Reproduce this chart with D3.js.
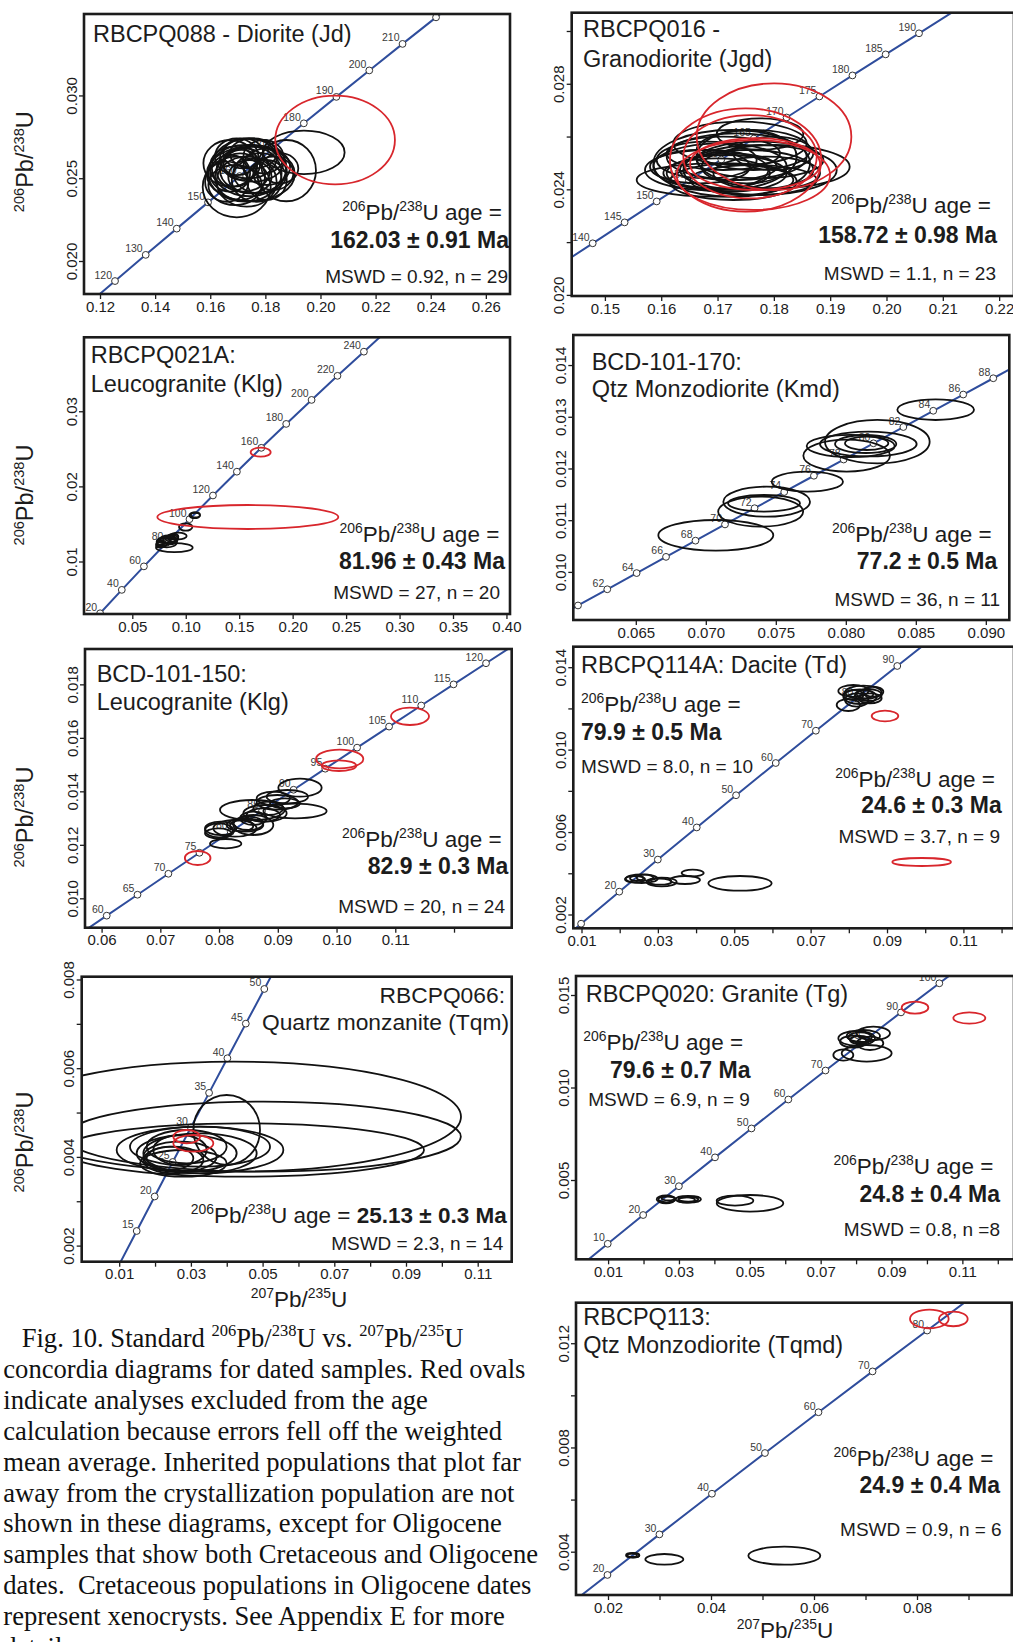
<!DOCTYPE html>
<html>
<head>
<meta charset="utf-8">
<script src="https://cdn.jsdelivr.net/npm/d3@7"></script>
<style>
  body { margin: 0; background: #fff; }
  svg { display: block; }
  text { white-space: pre; }
</style>
</head>
<body>
<svg id="fig" width="1013" height="1642"></svg>
<script>
// ---------------------------------------------------------------
// Concordia reference curve: age (Ma) with 207Pb/235U and 206Pb/238U
// ---------------------------------------------------------------
const concordiaAge = [10, 15, 20, 25, 30, 35, 40, 45, 50, 60, 62, 64, 65, 66, 68, 70, 72, 74, 75, 76, 78, 80, 82, 84, 85, 86, 88, 90, 95, 100, 105, 110, 115, 120, 130, 140, 145, 150, 155, 160, 165, 170, 175, 180, 185, 190, 200, 210, 220, 240];
const concordiaPb207U235 = [0.0098972, 0.0148824, 0.0198923, 0.0249269, 0.0299863, 0.0350707, 0.0401802, 0.0453150, 0.0504751, 0.0608718, 0.0629634, 0.0650592, 0.0661087, 0.0671591, 0.0692632, 0.0713714, 0.0734837, 0.0756003, 0.0766601, 0.0777210, 0.0798458, 0.0819749, 0.0841082, 0.0862456, 0.0873159, 0.0883873, 0.0905332, 0.0926834, 0.0980773, 0.1034979, 0.1089452, 0.1144193, 0.1199206, 0.1254489, 0.1365877, 0.1478367, 0.1535028, 0.1591970, 0.1649192, 0.1706697, 0.1764486, 0.1822560, 0.1880921, 0.1939570, 0.1998508, 0.2057737, 0.2177075, 0.2297793, 0.2419305, 0.2666653];
const concordiaPb206U238 = [0.0015525, 0.0023296, 0.0031073, 0.0038857, 0.0046646, 0.0054441, 0.0062243, 0.0070050, 0.0077864, 0.0093510, 0.0096642, 0.0099774, 0.0101341, 0.0102908, 0.0106043, 0.0109179, 0.0112316, 0.0115454, 0.0117023, 0.0118593, 0.0121732, 0.0124873, 0.0128015, 0.0131158, 0.0132729, 0.0134301, 0.0137446, 0.0140592, 0.0148460, 0.0156334, 0.0164215, 0.0172102, 0.0179995, 0.0187893, 0.0203710, 0.0219550, 0.0227480, 0.0235416, 0.0243358, 0.0251306, 0.0259260, 0.0267220, 0.0275187, 0.0283160, 0.0291139, 0.0299124, 0.0315113, 0.0331126, 0.0347165, 0.0379316];

// Error ellipses: [207Pb/235U, 206Pb/238U, half-width 207/235, half-height 206/238]

// RBCPQ088 - Diorite (Jd)
const p1Ages = [120, 130, 140, 150, 160, 170, 180, 190, 200, 210, 220];
const p1Accepted = [
  [0.1940, 0.02656, 0.01476, 0.00131], [0.1876, 0.02546, 0.01076, 0.00185], [0.1696, 0.02447, 0.01234, 0.00183],
  [0.1747, 0.02526, 0.01597, 0.00165], [0.1741, 0.02566, 0.01355, 0.00175], [0.1684, 0.02570, 0.00847, 0.00121],
  [0.1720, 0.02550, 0.00968, 0.00131], [0.1756, 0.02590, 0.01089, 0.00111], [0.1708, 0.02509, 0.00907, 0.00141],
  [0.1672, 0.02530, 0.00726, 0.00111], [0.1781, 0.02530, 0.00968, 0.00121], [0.1738, 0.02620, 0.01028, 0.00121],
  [0.1696, 0.02630, 0.00786, 0.00111], [0.1769, 0.02489, 0.00907, 0.00131], [0.1732, 0.02479, 0.01089, 0.00151],
  [0.1805, 0.02570, 0.00847, 0.00111], [0.1660, 0.02479, 0.00786, 0.00121], [0.1756, 0.02550, 0.01209, 0.00141],
  [0.1714, 0.02580, 0.00665, 0.00091], [0.1793, 0.02630, 0.00726, 0.00101], [0.1690, 0.02459, 0.00968, 0.00121],
  [0.1829, 0.02530, 0.00726, 0.00101], [0.1726, 0.02530, 0.01330, 0.00171], [0.1756, 0.02650, 0.00847, 0.00091],
  [0.1672, 0.02590, 0.00968, 0.00141], [0.1744, 0.02509, 0.00786, 0.00101], [0.1805, 0.02489, 0.00726, 0.00121],
  [0.1720, 0.02650, 0.00726, 0.00091], [0.1853, 0.02560, 0.00665, 0.00091]
];
const p1Rejected = [[0.2053, 0.02731, 0.02171, 0.00268]];
const p1XTicks = [0.12, 0.14, 0.16, 0.18, 0.20, 0.22, 0.24, 0.26];
const p1XLabels = ["0.12", "0.14", "0.16", "0.18", "0.20", "0.22", "0.24", "0.26"];
const p1YTicks = [0.020, 0.025, 0.030];
const p1YLabels = ["0.020", "0.025", "0.030"];

// RBCPQ016 - Granodiorite (Jgd)
const p2Ages = [140, 145, 150, 155, 160, 165, 170, 175, 180, 185, 190];
const p2Accepted = [
  [0.16955, 0.024353, 0.01391, 0.000632], [0.18032, 0.024859, 0.01314, 0.000821], [0.17755, 0.026097, 0.00769, 0.000594],
  [0.17251, 0.024985, 0.01391, 0.001263], [0.17044, 0.024859, 0.01184, 0.000884], [0.17162, 0.024606, 0.01065, 0.000695],
  [0.16807, 0.024732, 0.01095, 0.000758], [0.17340, 0.025238, 0.01243, 0.000884], [0.17636, 0.025491, 0.01006, 0.000758],
  [0.17518, 0.024732, 0.01184, 0.000758], [0.17281, 0.024290, 0.01125, 0.000695], [0.16807, 0.025111, 0.00888, 0.000695],
  [0.17755, 0.025111, 0.01125, 0.000695], [0.17399, 0.025743, 0.01184, 0.000821], [0.17103, 0.025364, 0.01006, 0.000632],
  [0.17873, 0.024606, 0.00947, 0.000632], [0.16985, 0.024606, 0.00947, 0.000568], [0.17636, 0.024353, 0.01125, 0.000568],
  [0.16689, 0.024859, 0.00888, 0.000632], [0.17518, 0.025238, 0.00888, 0.001010], [0.17991, 0.025364, 0.00710, 0.000632],
  [0.17222, 0.024859, 0.00829, 0.000505], [0.17755, 0.024732, 0.01361, 0.000947]
];
const p2Rejected = [
  [0.18003, 0.025996, 0.01373, 0.002021], [0.17499, 0.025111, 0.01344, 0.001958], [0.17636, 0.024544, 0.01361, 0.001326],
  [0.17666, 0.024958, 0.01154, 0.000985], [0.17577, 0.025236, 0.01184, 0.001579]
];
const p2XTicks = [0.15, 0.16, 0.17, 0.18, 0.19, 0.20, 0.21, 0.22];
const p2XLabels = ["0.15", "0.16", "0.17", "0.18", "0.19", "0.20", "0.21", "0.22"];
const p2YTicks = [0.020, 0.022, 0.024, 0.026, 0.028, 0.030];
const p2YLabels = ["0.020", "0.024", "0.028"];

// RBCPQ021A: Leucogranite (Klg)
const p3Ages = [20, 40, 60, 80, 100, 120, 140, 160, 180, 200, 220, 240];
const p3Accepted = [
  [0.10834, 0.016146, 0.00499, 0.000377], [0.10900, 0.016200, 0.00420, 0.000320], [0.09992, 0.014593, 0.00624, 0.000488],
  [0.08932, 0.011841, 0.01715, 0.000599], [0.07903, 0.012640, 0.00624, 0.000532], [0.08371, 0.012951, 0.00780, 0.000532],
  [0.08683, 0.013084, 0.00624, 0.000444], [0.08215, 0.012507, 0.00935, 0.000621], [0.07747, 0.012330, 0.00468, 0.000444],
  [0.08839, 0.013306, 0.00468, 0.000355], [0.09307, 0.013395, 0.00780, 0.000444], [0.08059, 0.012862, 0.00561, 0.000399],
  [0.08527, 0.012773, 0.00686, 0.000488], [0.07591, 0.012197, 0.00374, 0.000355]
];
const p3Rejected = [[0.15808, 0.015924, 0.08466, 0.001597], [0.17008, 0.024555, 0.00935, 0.000599]];
const p3XTicks = [0.05, 0.10, 0.15, 0.20, 0.25, 0.30, 0.35, 0.40];
const p3XLabels = ["0.05", "0.10", "0.15", "0.20", "0.25", "0.30", "0.35", "0.40"];
const p3YTicks = [0.01, 0.02, 0.03];
const p3YLabels = ["0.01", "0.02", "0.03"];

// BCD-101-170: Qtz Monzodiorite (Kmd)
const p4Ages = [60, 62, 64, 66, 68, 70, 72, 74, 76, 78, 80, 82, 84, 86, 88];
const p4LabeledAges = [62, 64, 66, 68, 70, 72, 74, 76, 78, 80, 82, 84, 86, 88];
const p4Accepted = [
  [0.070716, 0.010707, 0.004107, 0.000297], [0.073918, 0.011165, 0.003035, 0.000290], [0.074347, 0.011358, 0.003095, 0.000290],
  [0.074157, 0.011326, 0.002571, 0.000161], [0.077251, 0.011745, 0.002547, 0.000193], [0.080061, 0.012248, 0.003095, 0.000309],
  [0.080347, 0.012435, 0.003143, 0.000213], [0.081608, 0.012473, 0.003452, 0.000239], [0.082251, 0.012519, 0.003738, 0.000419],
  [0.081418, 0.012473, 0.002190, 0.000174], [0.081489, 0.012486, 0.001548, 0.000129], [0.086418, 0.013137, 0.002738, 0.000200]
];
const p4Rejected = [];
const p4XTicks = [0.065, 0.070, 0.075, 0.080, 0.085, 0.090];
const p4XLabels = ["0.065", "0.070", "0.075", "0.080", "0.085", "0.090"];
const p4YTicks = [0.010, 0.011, 0.012, 0.013, 0.014];
const p4YLabels = ["0.010", "0.011", "0.012", "0.013", "0.014"];

// BCD-101-150: Leucogranite (Klg)
const p5Ages = [60, 65, 70, 75, 80, 85, 90, 95, 100, 105, 110, 115, 120];
const p5Accepted = [
  [0.081123, 0.012043, 0.002667, 0.000175], [0.079988, 0.012541, 0.002383, 0.000262], [0.079874, 0.012429, 0.002270, 0.000187],
  [0.085663, 0.013302, 0.005505, 0.000374], [0.092927, 0.013264, 0.005391, 0.000274], [0.093778, 0.014137, 0.003689, 0.000337],
  [0.091621, 0.013800, 0.003519, 0.000249], [0.089919, 0.013588, 0.003519, 0.000274], [0.087819, 0.013177, 0.003689, 0.000312],
  [0.085833, 0.012741, 0.003405, 0.000374], [0.084414, 0.012741, 0.003121, 0.000249], [0.080271, 0.012616, 0.002667, 0.000249],
  [0.082712, 0.012616, 0.003689, 0.000312], [0.087535, 0.013115, 0.002838, 0.000249], [0.088387, 0.013364, 0.002554, 0.000249],
  [0.084982, 0.012803, 0.002554, 0.000249], [0.091224, 0.013551, 0.002554, 0.000187], [0.083846, 0.012716, 0.001986, 0.000212],
  [0.085833, 0.012990, 0.002270, 0.000249], [0.089238, 0.013738, 0.002838, 0.000249]
];
const p5Rejected = [
  [0.076356, 0.011507, 0.002185, 0.000262], [0.100531, 0.015209, 0.004029, 0.000349],
  [0.100418, 0.014960, 0.002951, 0.000200], [0.112505, 0.016804, 0.003235, 0.000324]
];
const p5XTicks = [0.06, 0.07, 0.08, 0.09, 0.10, 0.11, 0.12];
const p5XLabels = ["0.06", "0.07", "0.08", "0.09", "0.10", "0.11"];
const p5YTicks = [0.010, 0.012, 0.014, 0.016, 0.018];
const p5YLabels = ["0.010", "0.012", "0.014", "0.016", "0.018"];

// RBCPQ114A: Dacite (Td)
const p6Ages = [10, 20, 30, 40, 50, 60, 70, 80, 90];
const p6LabeledAges = [20, 30, 40, 50, 60, 70, 80, 90];
const p6Accepted = [
  [0.081179, 0.012845, 0.003928, 0.000291], [0.083798, 0.012781, 0.004801, 0.000323], [0.085107, 0.012651, 0.003491, 0.000291],
  [0.082925, 0.012570, 0.004364, 0.000356], [0.079870, 0.012166, 0.003055, 0.000291], [0.082052, 0.012409, 0.003055, 0.000323],
  [0.085543, 0.012490, 0.003055, 0.000243], [0.086416, 0.012813, 0.002618, 0.000243], [0.084234, 0.012684, 0.002182, 0.000194],
  [0.081179, 0.012651, 0.002618, 0.000243],
  [0.025755, 0.003739, 0.004190, 0.000210], [0.024009, 0.003706, 0.002618, 0.000162], [0.026627, 0.003787, 0.002182, 0.000146],
  [0.030991, 0.003577, 0.003928, 0.000210], [0.030555, 0.003593, 0.003055, 0.000146], [0.037101, 0.003674, 0.003928, 0.000194],
  [0.039109, 0.004014, 0.002880, 0.000162], [0.051503, 0.003512, 0.008292, 0.000356], [0.024445, 0.003755, 0.001746, 0.000129]
];
const p6Rejected = [[0.089471, 0.011632, 0.003491, 0.000259], [0.099072, 0.004548, 0.007681, 0.000194]];
const p6XTicks = [0.01, 0.02, 0.03, 0.04, 0.05, 0.06, 0.07, 0.08, 0.09, 0.10, 0.11, 0.12];
const p6XLabels = ["0.01", "0.03", "0.05", "0.07", "0.09", "0.11"];
const p6YTicks = [0.002, 0.004, 0.006, 0.008, 0.010, 0.012, 0.014];
const p6YLabels = ["0.002", "0.006", "0.010", "0.014"];

// RBCPQ066: Quartz monzanite (Tqm)
const p7Ages = [15, 20, 25, 30, 35, 40, 45, 50];
const p7Accepted = [
  [0.04184, 0.004907, 0.06350, 0.001240], [0.04463, 0.004156, 0.05040, 0.000601], [0.05020, 0.004456, 0.05510, 0.000789],
  [0.03254, 0.004156, 0.02325, 0.000526], [0.03254, 0.004231, 0.01953, 0.000451], [0.03998, 0.004607, 0.00930, 0.000789],
  [0.02882, 0.004080, 0.01395, 0.000413], [0.02696, 0.004005, 0.01023, 0.000338], [0.02882, 0.004231, 0.01116, 0.000376],
  [0.02510, 0.003930, 0.00837, 0.000301], [0.02417, 0.003968, 0.00651, 0.000263], [0.02789, 0.003855, 0.01209, 0.000301],
  [0.03254, 0.004080, 0.01581, 0.000451], [0.02696, 0.004156, 0.00744, 0.000338]
];
const p7Rejected = [[0.03068, 0.004306, 0.00558, 0.000188], [0.02882, 0.004456, 0.00372, 0.000150]];
const p7XTicks = [0.01, 0.02, 0.03, 0.04, 0.05, 0.06, 0.07, 0.08, 0.09, 0.10, 0.11];
const p7XLabels = ["0.01", "0.03", "0.05", "0.07", "0.09", "0.11"];
const p7YTicks = [0.002, 0.003, 0.004, 0.005, 0.006, 0.007, 0.008];
const p7YLabels = ["0.002", "0.004", "0.006", "0.008"];

// RBCPQ020: Granite (Tg)
const p8Ages = [10, 20, 30, 40, 50, 60, 70, 80, 90, 100];
const p8Accepted = [
  [0.080164, 0.012658, 0.005175, 0.000396], [0.082045, 0.012784, 0.004705, 0.000324], [0.084868, 0.012928, 0.004705, 0.000360],
  [0.079223, 0.012477, 0.003764, 0.000324], [0.081104, 0.012568, 0.002823, 0.000216], [0.083927, 0.012387, 0.003764, 0.000360],
  [0.076400, 0.011757, 0.002823, 0.000306], [0.082986, 0.011847, 0.007057, 0.000450], [0.081104, 0.012712, 0.003293, 0.000270],
  [0.026532, 0.003955, 0.002352, 0.000162], [0.026344, 0.003955, 0.002635, 0.000216], [0.032648, 0.003955, 0.003575, 0.000180],
  [0.032648, 0.003955, 0.002823, 0.000126], [0.050055, 0.003739, 0.009409, 0.000450], [0.045820, 0.003883, 0.005175, 0.000270],
  [0.027002, 0.004009, 0.001882, 0.000108], [0.032177, 0.003919, 0.002352, 0.000144]
];
const p8Rejected = [[0.096630, 0.014315, 0.003764, 0.000324], [0.111967, 0.013757, 0.004516, 0.000306]];
const p8XTicks = [0.01, 0.02, 0.03, 0.04, 0.05, 0.06, 0.07, 0.08, 0.09, 0.10, 0.11, 0.12];
const p8XLabels = ["0.01", "0.03", "0.05", "0.07", "0.09", "0.11"];
const p8YTicks = [0.005, 0.010, 0.015];
const p8YLabels = ["0.005", "0.010", "0.015"];

// RBCPQ113: Qtz Monzodiorite (Tqmd)
const p9Ages = [20, 30, 40, 50, 60, 70, 80];
const p9Accepted = [
  [0.02479, 0.003861, 0.001294, 0.000090], [0.02466, 0.003861, 0.000971, 0.000064], [0.02492, 0.003861, 0.001165, 0.000077],
  [0.030939, 0.003707, 0.003689, 0.000205], [0.05424, 0.003848, 0.006990, 0.000345]
];
const p9Rejected = [[0.082395, 0.012933, 0.003754, 0.000358], [0.087055, 0.012933, 0.002783, 0.000282]];
const p9XTicks = [0.02, 0.03, 0.04, 0.05, 0.06, 0.07, 0.08, 0.09];
const p9XLabels = ["0.02", "0.04", "0.06", "0.08"];
const p9YTicks = [0.004, 0.006, 0.008, 0.010, 0.012];
const p9YLabels = ["0.004", "0.008", "0.012"];

const captionLines = [
  "Fig. 10. Standard ^206^Pb/^238^U vs. ^207^Pb/^235^U",
  "concordia diagrams for dated samples. Red ovals",
  "indicate analyses excluded from the age",
  "calculation because errors fell off the weighted",
  "mean average. Inherited populations that plot far",
  "away from the crystallization population are not",
  "shown in these diagrams, except for Oligocene",
  "samples that show both Cretaceous and Oligocene",
  "dates.  Cretaceous populations in Oligocene dates",
  "represent xenocrysts. See Appendix E for more",
  "details."
];

// ---------------------------------------------------------------
// Panel layout: frame box [left, top, right, bottom] and axis ranges
// ---------------------------------------------------------------
const AGE = "^206^Pb/^238^U age =";
const TS = 23.5;   // sample-name size
const panels = [
  { id: "p1", box: [84, 14, 510, 294], xDomain: [0.114194, 0.268766], yDomain: [0.018007, 0.034919],
    xTicks: p1XTicks, xLabels: p1XLabels, xFormat: ".2f", yTicks: p1YTicks, yLabels: p1YLabels, yFormat: ".3f",
    ages: p1Ages, labeledAges: p1Ages, accepted: p1Accepted, rejected: p1Rejected,
    notes: [
      { x: 93, y: 42, size: TS, text: "RBCPQ088 - Diorite (Jd)" },
      { x: 502, y: 220, anchor: "end", size: 22.5, text: AGE },
      { x: 509, y: 248, anchor: "end", size: 23, weight: "bold", text: "162.03 ± 0.91 Ma" },
      { x: 508, y: 283, anchor: "end", size: 19, text: "MSWD = 0.92, n = 29" }
    ] },
  { id: "p2", box: [571.7, 12.7, 1014, 296], xDomain: [0.144105, 0.222639], yDomain: [0.019958, 0.030693],
    xTicks: p2XTicks, xLabels: p2XLabels, xFormat: ".2f", yTicks: p2YTicks, yLabels: p2YLabels, yFormat: ".3f",
    ages: p2Ages, labeledAges: p2Ages, accepted: p2Accepted, rejected: p2Rejected,
    notes: [
      { x: 583, y: 37.3, size: TS, text: "RBCPQ016 -" },
      { x: 583, y: 66.5, size: TS, text: "Granodiorite (Jgd)" },
      { x: 991, y: 213.3, anchor: "end", size: 22.5, text: AGE },
      { x: 997, y: 242.7, anchor: "end", size: 23, weight: "bold", text: "158.72 ± 0.98 Ma" },
      { x: 996, y: 280, anchor: "end", size: 19, text: "MSWD = 1.1, n = 23" }
    ] },
  { id: "p3", box: [84, 337.3, 510, 614], xDomain: [0.004818, 0.403321], yDomain: [0.003011, 0.039846],
    xTicks: p3XTicks, xLabels: p3XLabels, xFormat: ".2f", yTicks: p3YTicks, yLabels: p3YLabels, yFormat: ".2f",
    ages: p3Ages, labeledAges: p3Ages, accepted: p3Accepted, rejected: p3Rejected,
    notes: [
      { x: 90.7, y: 363.3, size: TS, text: "RBCPQ021A:" },
      { x: 90.7, y: 391.7, size: TS, text: "Leucogranite (Klg)" },
      { x: 499.3, y: 541.7, anchor: "end", size: 22.5, text: AGE },
      { x: 505, y: 569.3, anchor: "end", size: 23, weight: "bold", text: "81.96 ± 0.43 Ma" },
      { x: 500, y: 599.3, anchor: "end", size: 19, text: "MSWD = 27, n = 20" }
    ] },
  { id: "p4", box: [573.3, 335, 1009.3, 620], xDomain: [0.060536, 0.091677], yDomain: [0.009070, 0.014581],
    xTicks: p4XTicks, xLabels: p4XLabels, xFormat: ".3f", yTicks: p4YTicks, yLabels: p4YLabels, yFormat: ".3f",
    ages: p4Ages, labeledAges: p4LabeledAges, accepted: p4Accepted, rejected: p4Rejected,
    notes: [
      { x: 591.7, y: 370, size: TS, text: "BCD-101-170:" },
      { x: 591.7, y: 396.7, size: TS, text: "Qtz Monzodiorite (Kmd)" },
      { x: 991.7, y: 541.7, anchor: "end", size: 22.5, text: AGE },
      { x: 997.3, y: 569.3, anchor: "end", size: 23, weight: "bold", text: "77.2 ± 0.5 Ma" },
      { x: 1000, y: 606, anchor: "end", size: 19, text: "MSWD = 36, n = 11" }
    ] },
  { id: "p5", box: [85, 649, 511.7, 927.7], xDomain: [0.057174, 0.129820], yDomain: [0.008901, 0.019322],
    xTicks: p5XTicks, xLabels: p5XLabels, xFormat: ".2f", yTicks: p5YTicks, yLabels: p5YLabels, yFormat: ".3f",
    ages: p5Ages, labeledAges: p5Ages, accepted: p5Accepted, rejected: p5Rejected,
    notes: [
      { x: 96.7, y: 682.3, size: TS, text: "BCD-101-150:" },
      { x: 96.7, y: 710, size: TS, text: "Leucogranite (Klg)" },
      { x: 501.7, y: 846.7, anchor: "end", size: 22.5, text: AGE },
      { x: 508.3, y: 874.3, anchor: "end", size: 23, weight: "bold", text: "82.9 ± 0.3 Ma" },
      { x: 505, y: 913.3, anchor: "end", size: 19, text: "MSWD = 20, n = 24" }
    ] },
  { id: "p6", box: [573.3, 646.7, 1014, 928.3], xDomain: [0.007853, 0.123252], yDomain: [0.001330, 0.014995],
    xTicks: p6XTicks, xLabels: p6XLabels, xFormat: ".2f", yTicks: p6YTicks, yLabels: p6YLabels, yFormat: ".3f",
    ages: p6Ages, labeledAges: p6LabeledAges, accepted: p6Accepted, rejected: p6Rejected,
    notes: [
      { x: 581, y: 673.3, size: TS, text: "RBCPQ114A: Dacite (Td)" },
      { x: 581, y: 712.3, size: 22.5, text: AGE },
      { x: 581, y: 740, size: 23, weight: "bold", text: "79.9 ± 0.5 Ma" },
      { x: 581, y: 773.3, size: 19, text: "MSWD = 8.0, n = 10" },
      { x: 995, y: 786.7, anchor: "end", size: 22.5, text: AGE },
      { x: 1001.7, y: 813.3, anchor: "end", size: 23, weight: "bold", text: "24.6 ± 0.3 Ma" },
      { x: 1000, y: 843.3, anchor: "end", size: 19, text: "MSWD = 3.7, n = 9" }
    ] },
  { id: "p7", box: [81.7, 976.7, 511.7, 1261.7], xDomain: [-0.000460, 0.119484], yDomain: [0.001637, 0.008063],
    xTicks: p7XTicks, xLabels: p7XLabels, xFormat: ".2f", yTicks: p7YTicks, yLabels: p7YLabels, yFormat: ".3f",
    ages: p7Ages, labeledAges: p7Ages, accepted: p7Accepted, rejected: p7Rejected,
    notes: [
      { x: 505, y: 1003.3, anchor: "end", size: 22.8, text: "RBCPQ066:" },
      { x: 509, y: 1030, anchor: "end", size: 22.8, text: "Quartz monzanite (Tqm)" },
      { x: 506.7, y: 1223.3, anchor: "end", size: 22.5, text: "^206^Pb/^238^U age = *25.13 ± 0.3 Ma*" },
      { x: 503.3, y: 1250, anchor: "end", size: 19, text: "MSWD = 2.3, n = 14" }
    ] },
  { id: "p8", box: [576, 976, 1014, 1259.3], xDomain: [0.000939, 0.124575], yDomain: [0.000714, 0.016027],
    xTicks: p8XTicks, xLabels: p8XLabels, xFormat: ".2f", yTicks: p8YTicks, yLabels: p8YLabels, yFormat: ".3f",
    ages: p8Ages, labeledAges: p8Ages, accepted: p8Accepted, rejected: p8Rejected,
    notes: [
      { x: 585.7, y: 1001.7, size: TS, text: "RBCPQ020: Granite (Tg)" },
      { x: 583.3, y: 1050, size: 22.5, text: AGE },
      { x: 610, y: 1078.3, size: 23, weight: "bold", text: "79.6 ± 0.7 Ma" },
      { x: 588.3, y: 1106, size: 19, text: "MSWD = 6.9, n = 9" },
      { x: 993.3, y: 1174, anchor: "end", size: 22.5, text: AGE },
      { x: 1000, y: 1201.7, anchor: "end", size: 23, weight: "bold", text: "24.8 ± 0.4 Ma" },
      { x: 1000, y: 1236, anchor: "end", size: 19, text: "MSWD = 0.8, n =8" }
    ] },
  { id: "p9", box: [576, 1302.7, 1011.7, 1595], xDomain: [0.013786, 0.098388], yDomain: [0.002338, 0.013555],
    xTicks: p9XTicks, xLabels: p9XLabels, xFormat: ".2f", yTicks: p9YTicks, yLabels: p9YLabels, yFormat: ".3f",
    ages: p9Ages, labeledAges: p9Ages, accepted: p9Accepted, rejected: p9Rejected,
    notes: [
      { x: 583.3, y: 1325, size: TS, text: "RBCPQ113:" },
      { x: 583.3, y: 1353.3, size: TS, text: "Qtz Monzodiorite (Tqmd)" },
      { x: 993.3, y: 1466, anchor: "end", size: 22.5, text: AGE },
      { x: 1000, y: 1493.3, anchor: "end", size: 23, weight: "bold", text: "24.9 ± 0.4 Ma" },
      { x: 1001.7, y: 1536, anchor: "end", size: 19, text: "MSWD = 0.9, n = 6" }
    ] }
];

// Axis titles shared along the left column and under the bottom plots
const axisTitles = [
  { x: 33, y: 161.7, rotate: -90, anchor: "middle", size: 23.5, text: "^206^Pb/^238^U" },
  { x: 33, y: 495, rotate: -90, anchor: "middle", size: 23.5, text: "^206^Pb/^238^U" },
  { x: 33, y: 817, rotate: -90, anchor: "middle", size: 23.5, text: "^206^Pb/^238^U" },
  { x: 33, y: 1142, rotate: -90, anchor: "middle", size: 23.5, text: "^206^Pb/^238^U" },
  { x: 299, y: 1306.7, anchor: "middle", size: 22.5, text: "^207^Pb/^235^U" },
  { x: 785, y: 1638, anchor: "middle", size: 22.5, text: "^207^Pb/^235^U" }
];

// ---------------------------------------------------------------
// Drawing
// ---------------------------------------------------------------
const SANS = "'Liberation Sans', Arial, sans-serif";
const SERIF = "'Liberation Serif', 'Times New Roman', serif";
const INK = "#1c1c1c";
const BLUE = "#2f4d9c";
const RED = "#d8262c";
const svg = d3.select("#fig");
const defs = svg.append("defs");

// Text with ^superscript^ and *bold* runs
function richText(g, a) {
  const size = a.size;
  const t = g.append("text")
    .attr("x", a.x).attr("y", a.y)
    .attr("text-anchor", a.anchor || "start")
    .attr("font-family", a.family || SANS)
    .attr("font-size", size)
    .attr("font-weight", a.weight || "normal")
    .attr("fill", a.fill || INK);
  if (a.rotate) t.attr("transform", `rotate(${a.rotate},${a.x},${a.y})`);
  const shift = size * 0.40;
  let raised = false;
  a.text.split(/(\^[^^]+\^|\*[^*]+\*)/).filter(s => s.length).forEach(part => {
    const ts = t.append("tspan");
    if (part[0] === "^") {
      ts.text(part.slice(1, -1)).attr("font-size", size * 0.62);
      if (!raised) { ts.attr("dy", -shift); raised = true; }
    } else {
      const bold = part[0] === "*";
      ts.text(bold ? part.slice(1, -1) : part);
      if (bold) ts.attr("font-weight", "bold");
      if (raised) { ts.attr("dy", shift); raised = false; }
    }
  });
  return t;
}

function concordiaPoint(age) {
  const i = concordiaAge.indexOf(age);
  return [concordiaPb207U235[i], concordiaPb206U238[i]];
}

panels.forEach(p => {
  const [L, T, R, B] = p.box;
  const x = d3.scaleLinear().domain(p.xDomain).range([L, R]);
  const y = d3.scaleLinear().domain(p.yDomain).range([B, T]);
  const g = svg.append("g").attr("class", "panel " + p.id);

  defs.append("clipPath").attr("id", "clip-" + p.id)
    .append("rect").attr("x", L).attr("y", T).attr("width", R - L).attr("height", B - T);
  const plot = g.append("g").attr("clip-path", `url(#clip-${p.id})`);

  // Concordia curve through the age markers, continued past the end markers to the frame
  const pts = p.ages.map(a => { const c = concordiaPoint(a); return [x(c[0]), y(c[1])]; });
  const n = pts.length;
  const extend = (a, b) => [a[0] + (a[0] - b[0]) * 20, a[1] + (a[1] - b[1]) * 20];
  plot.append("path")
    .attr("d", d3.line()([extend(pts[0], pts[1]), ...pts, extend(pts[n - 1], pts[n - 2])]))
    .attr("fill", "none").attr("stroke", BLUE).attr("stroke-width", 2);

  // Age markers and labels
  plot.selectAll("circle.age").data(p.ages).join("circle")
    .attr("class", "age")
    .attr("cx", a => x(concordiaPoint(a)[0]))
    .attr("cy", a => y(concordiaPoint(a)[1]))
    .attr("r", 3.4)
    .attr("fill", "#fff").attr("stroke", "#333").attr("stroke-width", 1);
  plot.selectAll("text.age").data(p.labeledAges).join("text")
    .attr("class", "age")
    .attr("x", a => x(concordiaPoint(a)[0]) - 3)
    .attr("y", a => y(concordiaPoint(a)[1]) - 2.5)
    .attr("text-anchor", "end")
    .attr("font-family", SANS).attr("font-size", 10.5).attr("fill", "#3a3a3a")
    .text(a => a);

  // Analysis error ellipses
  const drawEllipses = (data, color, width) => {
    plot.append("g").selectAll("ellipse").data(data).join("ellipse")
      .attr("cx", d => x(d[0]))
      .attr("cy", d => y(d[1]))
      .attr("rx", d => x(d[0] + d[2]) - x(d[0]))
      .attr("ry", d => y(d[1]) - y(d[1] + d[3]))
      .attr("fill", "none").attr("stroke", color).attr("stroke-width", width);
  };
  drawEllipses(p.accepted, "#111", 1.8);
  drawEllipses(p.rejected, RED, 1.8);

  // Axes
  const fx = d3.format(p.xFormat), fy = d3.format(p.yFormat);
  const xAxis = d3.axisBottom(x).tickValues(p.xTicks).tickSize(5).tickPadding(2)
    .tickFormat(d => p.xLabels.includes(fx(d)) ? fx(d) : "");
  const yAxis = d3.axisLeft(y).tickValues(p.yTicks).tickSize(5)
    .tickFormat(d => p.yLabels.includes(fy(d)) ? fy(d) : "");
  const xa = g.append("g").attr("transform", `translate(0,${B})`).call(xAxis);
  const ya = g.append("g").attr("transform", `translate(${L},0)`).call(yAxis);
  [xa, ya].forEach(a => {
    a.select(".domain").remove();
    a.attr("font-family", SANS).attr("font-size", 15);
    a.selectAll(".tick line").attr("stroke", INK).attr("stroke-width", 1.3);
    a.selectAll(".tick text").attr("fill", INK);
  });
  ya.selectAll(".tick text")
    .attr("transform", "rotate(-90)")
    .attr("x", 0).attr("y", -7.5).attr("dy", 0)
    .attr("text-anchor", "middle");

  // Frame
  g.append("rect").attr("x", L).attr("y", T).attr("width", R - L).attr("height", B - T)
    .attr("fill", "none").attr("stroke", INK).attr("stroke-width", 2.6);

  // Sample name, ages and statistics
  p.notes.forEach(nt => richText(g, nt));
});

axisTitles.forEach(a => richText(svg, a));

// Figure caption
const cap = svg.append("g");
captionLines.forEach((line, i) => {
  richText(cap, { x: i === 0 ? 21.7 : 3.3, y: 1347 + i * 30.9, size: 26.6, family: SERIF, fill: "#111", text: line });
});
</script>
</body>
</html>
